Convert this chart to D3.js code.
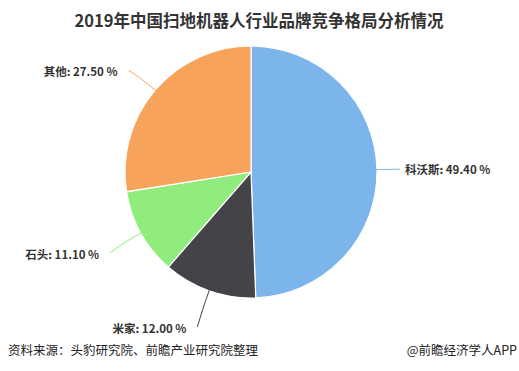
<!DOCTYPE html>
<html><head><meta charset="utf-8">
<script src="https://cdn.jsdelivr.net/npm/d3@7"></script>
<style>body{margin:0;background:#fff;}svg{display:block;font-family:"Noto Sans CJK SC","Noto Sans",sans-serif;}</style>
</head><body>
<script>
const categories = ["科沃斯", "米家", "石头", "其他"];
const values = [49.40, 12.00, 11.10, 27.50];
const colors = ["#7cb5ec", "#434348", "#90ed7d", "#f7a35c"];
const title = "2019年中国扫地机器人行业品牌竞争格局分析情况";
const source = "资料来源：头豹研究院、前瞻产业研究院整理";
const credit = "@前瞻经济学人APP";

const W = 519, H = 371;
const cx = 251, cy = 172, r = 126;
const svg = d3.select("body").append("svg").attr("width", W).attr("height", H);

svg.append("text").attr("x", 259).attr("y", 21).attr("dy", "0.35em").attr("text-anchor", "middle")
  .attr("font-size", 16.5).attr("font-weight", "bold").attr("fill", "#333").text(title);

const data = categories.map((c, i) => ({name: c, value: values[i], color: colors[i]}));
const pie = d3.pie().value(d => d.value).sort(null);
const arcs = pie(data);
const arc = d3.arc().innerRadius(0).outerRadius(r);
const g = svg.append("g").attr("transform", `translate(${cx},${cy})`);
g.selectAll("path").data(arcs).join("path")
  .attr("d", arc).attr("fill", d => d.data.color)
  .attr("stroke", "#fff").attr("stroke-width", 1.2);

arcs.forEach(a => {
  const m = (a.startAngle + a.endAngle) / 2;
  const sx = Math.sin(m), cyv = -Math.cos(m);
  const right = sx > 0;
  const dist = right ? 23 : 35;
  const p0 = [(r - 2) * sx, (r - 2) * cyv];
  const p2 = [(r + dist) * sx, (r + dist) * cyv + (right ? 0 : 3)];
  const p1 = [(r + dist * 0.6) * sx, (r + dist * 0.6) * cyv];
  g.append("path")
    .attr("d", `M${p0[0]},${p0[1]} Q${p1[0]},${p1[1]} ${p2[0]},${p2[1]}`)
    .attr("fill", "none").attr("stroke", a.data.color).attr("stroke-width", 1);
  g.append("text")
    .attr("x", p2[0] + (right ? 5 : -11)).attr("y", p2[1] + (right ? 1 : 2))
    .attr("dy", "0.35em")
    .attr("text-anchor", right ? "start" : "end")
    .attr("font-size", 11.5).attr("font-weight", "bold").attr("fill", "#333")
    .text(`${a.data.name}: ${a.data.value.toFixed(2)} %`);
});

svg.append("text").attr("x", 8).attr("y", 355).attr("font-size", 12.5).attr("fill", "#222").text(source);
svg.append("text").attr("x", 517).attr("y", 355).attr("text-anchor", "end").attr("font-size", 12.5).attr("fill", "#222").text(credit);
</script>
</body></html>
